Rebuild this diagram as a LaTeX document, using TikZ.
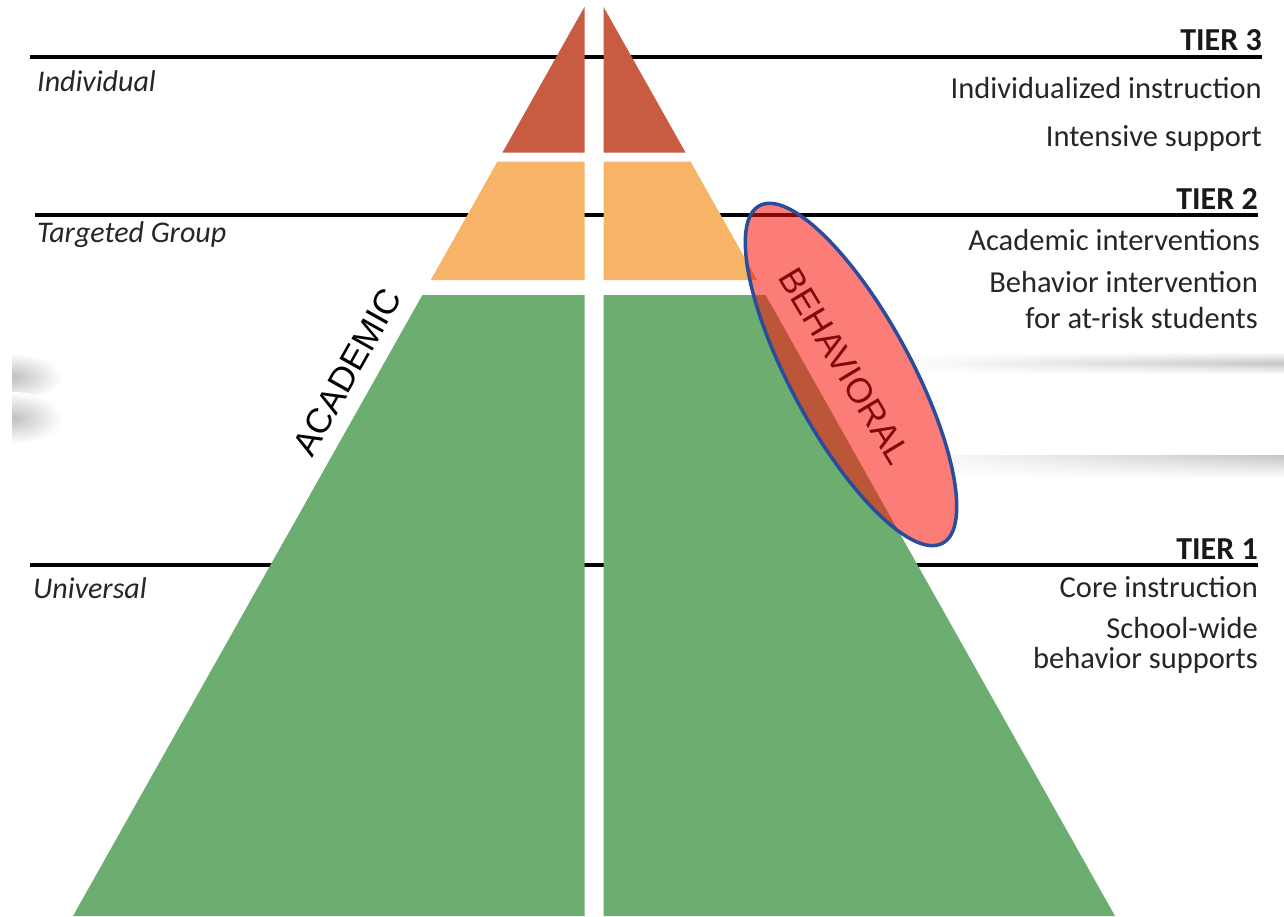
\documentclass[tikz,border=0pt]{standalone}
\usepackage{fontspec}
\setmainfont{Carlito}
\newfontfamily\arialf{Liberation Sans}
\usetikzlibrary{fadings}
\definecolor{tierred}{HTML}{C95B40}
\definecolor{tierorange}{HTML}{F7B467}
\definecolor{tiergreen}{HTML}{6BAE6F}
\definecolor{salmon}{HTML}{FC7C78}
\definecolor{bandred}{HTML}{BC5638}
\definecolor{ringblue}{HTML}{2B4C9B}
\definecolor{behred}{HTML}{850808}
\definecolor{sliver}{HTML}{F2562E}
\tikzset{
  tierline/.style={line width=3.2pt, black},
  lbl/.style={inner sep=0pt, anchor=base west, font=\fontsize{30}{30}\selectfont\itshape, text=black!85},
  rtxt/.style={inner sep=0pt, anchor=base east, font=\fontsize{30.5}{30.5}\selectfont, text=black!85},
  tier/.style={inner sep=0pt, anchor=base east, font=\fontsize{32}{32}\selectfont\bfseries, text=black!90},
  sidetxt/.style={inner sep=0pt, font=\arialf\fontsize{35}{35}\selectfont},
  shadowband/.style={path fading=west},
  softblob/.style={inner color=gray!50, outer color=white}
}
\begin{document}
\begin{tikzpicture}[x=1pt,y=1pt]
\useasboundingbox (0,0) rectangle (1284,-916);
\fill[white] (0,0) rectangle (1284,-916);

% faint gray shadows
\shade[top color=white, bottom color=white, middle color=gray!45, shadowband] (895,-352) rectangle (1284,-374);
\shade[top color=gray!45, bottom color=white, shadowband] (895,-455) rectangle (1284,-478);
\begin{scope}
  \clip (12,-340) rectangle (120,-460);
  \shade[softblob] (12,-377) ellipse [x radius=50, y radius=24];
  \shade[softblob] (12,-418) ellipse [x radius=50, y radius=26];
\end{scope}

% tier lines (end points)
\coordinate (l3a) at (30,-57);   \coordinate (l3b) at (1262,-57);
\coordinate (l2a) at (35,-215);  \coordinate (l2b) at (1258,-215);
\coordinate (l1a) at (30,-565);  \coordinate (l1b) at (1258,-565);
\draw[tierline] (l3a) -- (l3b);
\draw[tierline] (l2a) -- (l2b);
\draw[tierline] (l1a) -- (l1b);

% pyramid
\fill[tierred] (584.5,-6.8) -- (584.5,-152.5) -- (502.5,-152.5) -- cycle;
\fill[tierred] (603.5,-6.8) -- (603.5,-152.5) -- (685.5,-152.5) -- cycle;
\fill[tierorange] (584.5,-161.5) -- (584.5,-280) -- (430.8,-280) -- (497.5,-161.5) -- cycle;
\fill[tierorange] (603.5,-161.5) -- (603.5,-280) -- (757.2,-280) -- (690.5,-161.5) -- cycle;
\fill[tiergreen] (584.5,-295) -- (584.5,-916) -- (73,-916) -- (422.4,-295) -- cycle;
\fill[tiergreen] (603.5,-295) -- (603.5,-916) -- (1115,-916) -- (765.6,-295) -- cycle;

% behavioral ellipse
\coordinate (E) at (851,-374.5);
\fill[salmon, rotate around={-61.5:(E)}] (E) ellipse [x radius=192, y radius=60];
\begin{scope}
  \clip[rotate around={-61.5:(E)}] (E) ellipse [x radius=192, y radius=60];
  \fill[bandred] (603.5,-295) -- (603.5,-916) -- (1115,-916) -- (765.6,-295) -- cycle;
  \fill[sliver] (603.5,-161.5) -- (603.5,-280) -- (757.2,-280) -- (690.5,-161.5) -- cycle;
  \draw[line width=3.2pt, behred] (l2a) -- (l2b);
\end{scope}
\draw[ringblue, line width=3.5pt, rotate around={-61.5:(E)}] (E) ellipse [x radius=192, y radius=60];

% side labels
\node[sidetxt, rotate=60.6, text=black] (acad) at (347,-372) {ACADEMIC};
\node[sidetxt, rotate=-59, text=behred] (behav) at (845,-366) {BEHAVIORAL};

% left labels
\node[lbl] (indiv) at (37,-91) {Individual};
\node[lbl] (targ) at (37,-242) {Targeted Group};
\node[lbl] (univ) at (33,-598) {Universal};

% right text
\node[tier] (t3) at (1262,-50) {TIER 3};
\node[rtxt] (t3a) at (1262,-98) {Individualized instruction};
\node[rtxt] (t3b) at (1262,-146) {Intensive support};
\node[tier] (t2) at (1258,-209) {TIER 2};
\node[rtxt] (t2a) at (1260,-250) {Academic interventions};
\node[rtxt] (t2b) at (1258,-292) {Behavior intervention};
\node[rtxt] (t2c) at (1258,-328) {for at-risk students};
\node[tier] (t1) at (1258,-559) {TIER 1};
\node[rtxt] (t1a) at (1258,-597) {Core instruction};
\node[rtxt] (t1b) at (1258,-638) {School-wide};
\node[rtxt] (t1c) at (1258,-668) {behavior supports};
\end{tikzpicture}
\end{document}
